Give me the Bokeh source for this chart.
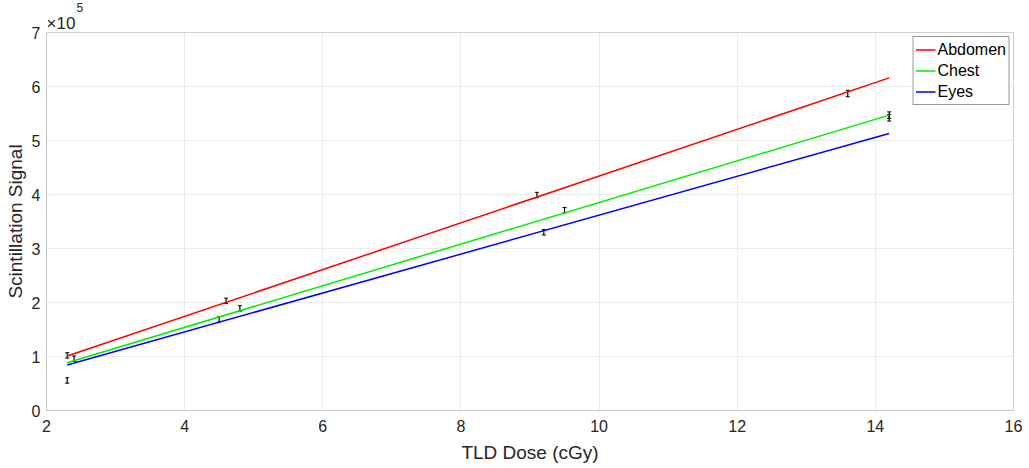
from bokeh.plotting import figure
from bokeh.models import ColumnDataSource, Whisker, Title, CustomJSTickFormatter, FixedTicker, Range1d, Legend
from bokeh.embed import file_html
from bokeh.resources import INLINE

# Measured points (TLD dose in cGy, scintillation signal)
abd_x = [2.3, 4.6, 9.1, 13.6]
abd_y = [1.02e5, 2.03e5, 3.99e5, 5.87e5]
chest_x = [2.4, 4.8, 9.5, 14.2]
chest_y = [0.96e5, 1.89e5, 3.71e5, 5.47e5]
eyes_x = [2.3, 4.5, 9.2, 14.2]
eyes_y = [0.556e5, 1.69e5, 3.30e5, 5.42e5]
err = [0.05e5, 0.05e5, 0.05e5, 0.06e5]

# Linear fits (endpoints)
fit_x = [2.3, 14.2]
abd_fit = [1.008e5, 6.16e5]
chest_fit = [0.885e5, 5.47e5]
eyes_fit = [0.843e5, 5.13e5]

x_ticks = [2, 4, 6, 8, 10, 12, 14, 16]
y_ticks = [0, 1e5, 2e5, 3e5, 4e5, 5e5, 6e5, 7e5]

FONT = "Liberation Sans"

p = figure(width=1029, height=468, output_backend="svg", toolbar_location=None,
           x_range=Range1d(2, 16), y_range=Range1d(0, 7e5),
           min_border_left=46, min_border_right=16, min_border_top=0, min_border_bottom=58)

p.title.text = ""
p.title.standoff = 0

p.outline_line_color = "#d0d0d0"
p.xgrid.grid_line_color = "#ebebeb"
p.ygrid.grid_line_color = "#ebebeb"

p.xaxis.ticker = FixedTicker(ticks=x_ticks)
p.yaxis.ticker = FixedTicker(ticks=y_ticks)
p.yaxis.formatter = CustomJSTickFormatter(code="return (tick/1e5).toFixed(0);")
for ax in (p.xaxis[0], p.yaxis[0]):
    ax.axis_line_color = "#c8c8c8"
    ax.major_tick_line_color = "#c8c8c8"
    ax.major_tick_out = 0
    ax.major_tick_in = 0
    ax.minor_tick_line_color = None
    ax.major_label_text_font = FONT
    ax.major_label_text_font_size = "16px"
    ax.major_label_text_color = "#262626"
    ax.axis_label_text_font = FONT
    ax.axis_label_text_font_size = "19px"
    ax.axis_label_text_font_style = "normal"
    ax.axis_label_text_color = "#262626"
p.xaxis.axis_label = "TLD Dose (cGy)"
p.yaxis.axis_label = "Scintillation Signal"
p.xaxis.major_label_standoff = 9
p.yaxis.major_label_standoff = 6
p.xaxis.axis_label_standoff = 7
p.yaxis.axis_label_standoff = 3

r1 = p.line(fit_x, abd_fit, line_color="#ff0000", line_width=1.5)
r2 = p.line(fit_x, chest_fit, line_color="#00ee00", line_width=1.5)
r3 = p.line(fit_x, eyes_fit, line_color="#0000ff", line_width=1.5)

for xs, ys in ((abd_x, abd_y), (chest_x, chest_y), (eyes_x, eyes_y)):
    src = ColumnDataSource(dict(x=xs, lo=[y - e for y, e in zip(ys, err)],
                                hi=[y + e for y, e in zip(ys, err)]))
    w = Whisker(base="x", lower="lo", upper="hi", source=src,
                line_color="black", line_width=1.2)
    w.upper_head.size = 4
    w.lower_head.size = 4
    w.upper_head.line_color = "black"
    w.lower_head.line_color = "black"
    p.add_layout(w)

legend = Legend(items=[("Abdomen", [r1]), ("Chest", [r2]), ("Eyes", [r3])],
                location="top_right")
legend.label_text_font = FONT
legend.label_text_font_size = "16px"
legend.label_text_color = "#000000"
legend.border_line_color = "#333333"
legend.border_line_width = 1
legend.spacing = 0
legend.padding = 2
legend.margin = 4
legend.glyph_width = 20
legend.glyph_height = 21
legend.label_standoff = 2
legend.label_height = 21
p.add_layout(legend)

base_title = Title(text="\u00d710", align="left", offset=0, standoff=0,
                   text_font=FONT, text_font_size="17px", text_font_style="normal",
                   text_color="#262626", text_line_height=0.9)
p.add_layout(base_title, "above")
exp_title = Title(text="5", align="left", offset=30, standoff=0,
                  text_font=FONT, text_font_size="12px", text_font_style="normal",
                  text_color="#262626", text_line_height=0.6)
p.add_layout(exp_title, "above")

open("out.html", "w").write(file_html(p, INLINE))
